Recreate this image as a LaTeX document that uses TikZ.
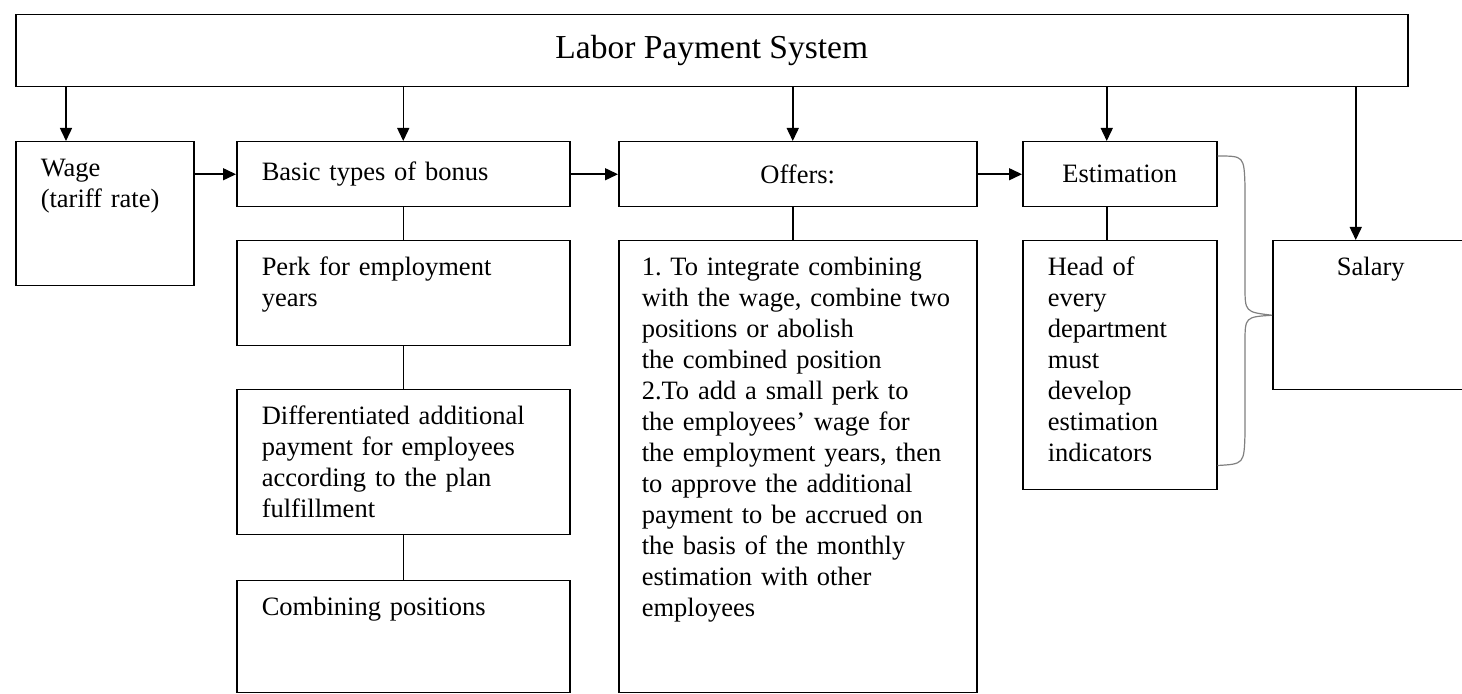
\documentclass[tikz,border=0pt]{standalone}
\usepackage{fontspec}
\setmainfont{Liberation Serif}
\usetikzlibrary{arrows.meta}

\begin{document}
\begin{tikzpicture}[x=0.5pt, y=-0.5pt,
    every node/.style={font=\fontsize{13.25}{15.5}\selectfont},
    box/.style={draw, line width=0.75pt, anchor=north west, inner sep=0pt},
    tbox/.style={box, align=left, inner xsep=12.5pt, inner ysep=7.5pt, text height=10pt},
    arr/.style={line width=0.75pt, -{Triangle[length=6.5pt,width=6pt]}},
    link/.style={line width=0.75pt},
    curly/.style={line width=0.6pt, gray}]
  \useasboundingbox (0,0) rectangle (1462,694);

  \node[box, minimum width=696pt, minimum height=36pt, font=\fontsize{16.75}{19}\selectfont] (sys) at (15,14) {Labor Payment System};

  \node[tbox, text width=64pt, text depth=47pt] (wage) at (15,141) {Wage\\(tariff rate)};
  \node[box, minimum width=166.5pt, minimum height=32.5pt, text width=141.5pt, align=left, inner xsep=12.5pt] (basic) at (236,141) {Basic types of bonus};
  \node[tbox, text width=141.5pt, text depth=27.5pt] (perk) at (236,240) {Perk for employment\\years};
  \node[tbox, text width=141.5pt, text depth=47.5pt] (diff) at (236,389) {Differentiated additional\\payment for employees\\according to the plan\\fulfillment};
  \node[tbox, text width=141.5pt, text depth=31pt] (comb) at (236,580) {Combining positions};

  \node[box, minimum width=179pt, minimum height=32.5pt] (offers) at (618,141) {Offers:};
  \node[tbox, inner xsep=11.5pt, text width=156pt, text depth=201pt] (plan) at (618,240) {1.\ To integrate combining\\with the wage, combine two\\positions or abolish\\the combined position\\2.To add a small perk to\\the employees' wage for\\the employment years, then\\to approve the additional\\payment to be accrued on\\the basis of the monthly\\estimation with other\\employees};

  \node[box, minimum width=97pt, minimum height=32.5pt] (est) at (1022,141) {Estimation};
  \node[tbox, text width=72pt, text depth=99.5pt] (head) at (1022,240) {Head of\\every\\department\\must\\develop\\estimation\\indicators};

  \node[tbox, align=center, text width=73pt, text depth=49.5pt] (salary) at (1272,240) {Salary};

  % columns of the arrows
  \coordinate (wcol) at ([xshift=25.5pt]wage.north west);
  \coordinate (ocol) at ([xshift=-2.5pt]offers.north);
  \coordinate (ecol) at ([xshift=-6.5pt]est.north);
  \coordinate (scol) at ([xshift=-7.5pt]salary.north);

  \draw[arr] (wcol |- sys.south) -- (wcol);
  \draw[arr] (basic.north |- sys.south) -- (basic.north);
  \draw[arr] (ocol |- sys.south) -- (ocol);
  \draw[arr] (ecol |- sys.south) -- (ecol);
  \draw[arr] (scol |- sys.south) -- (scol);

  \draw[arr] (wage.east |- basic.west) -- (basic.west);
  \draw[arr] (basic) -- (offers);
  \draw[arr] (offers) -- (est);

  \draw[link] (basic) -- (perk);
  \draw[link] (perk) -- (diff);
  \draw[link] (diff) -- (comb);
  \draw[link] (ocol |- offers.south) -- (ocol |- plan.north);
  \draw[link] (ecol |- est.south) -- (ecol |- head.north);

  % brace
  \coordinate (bt) at ([yshift=-7.5pt]est.north east);
  \coordinate (bb) at ([yshift=12.5pt]head.south east);
  \draw[curly] (bt) .. controls (1244,156) .. (1245,186) -- (1245,286)
    .. controls (1245,312) .. (salary.west) .. controls (1245,317) .. (1245,343)
    -- (1245,434) .. controls (1244,464) .. (bb);
\end{tikzpicture}
\end{document}
